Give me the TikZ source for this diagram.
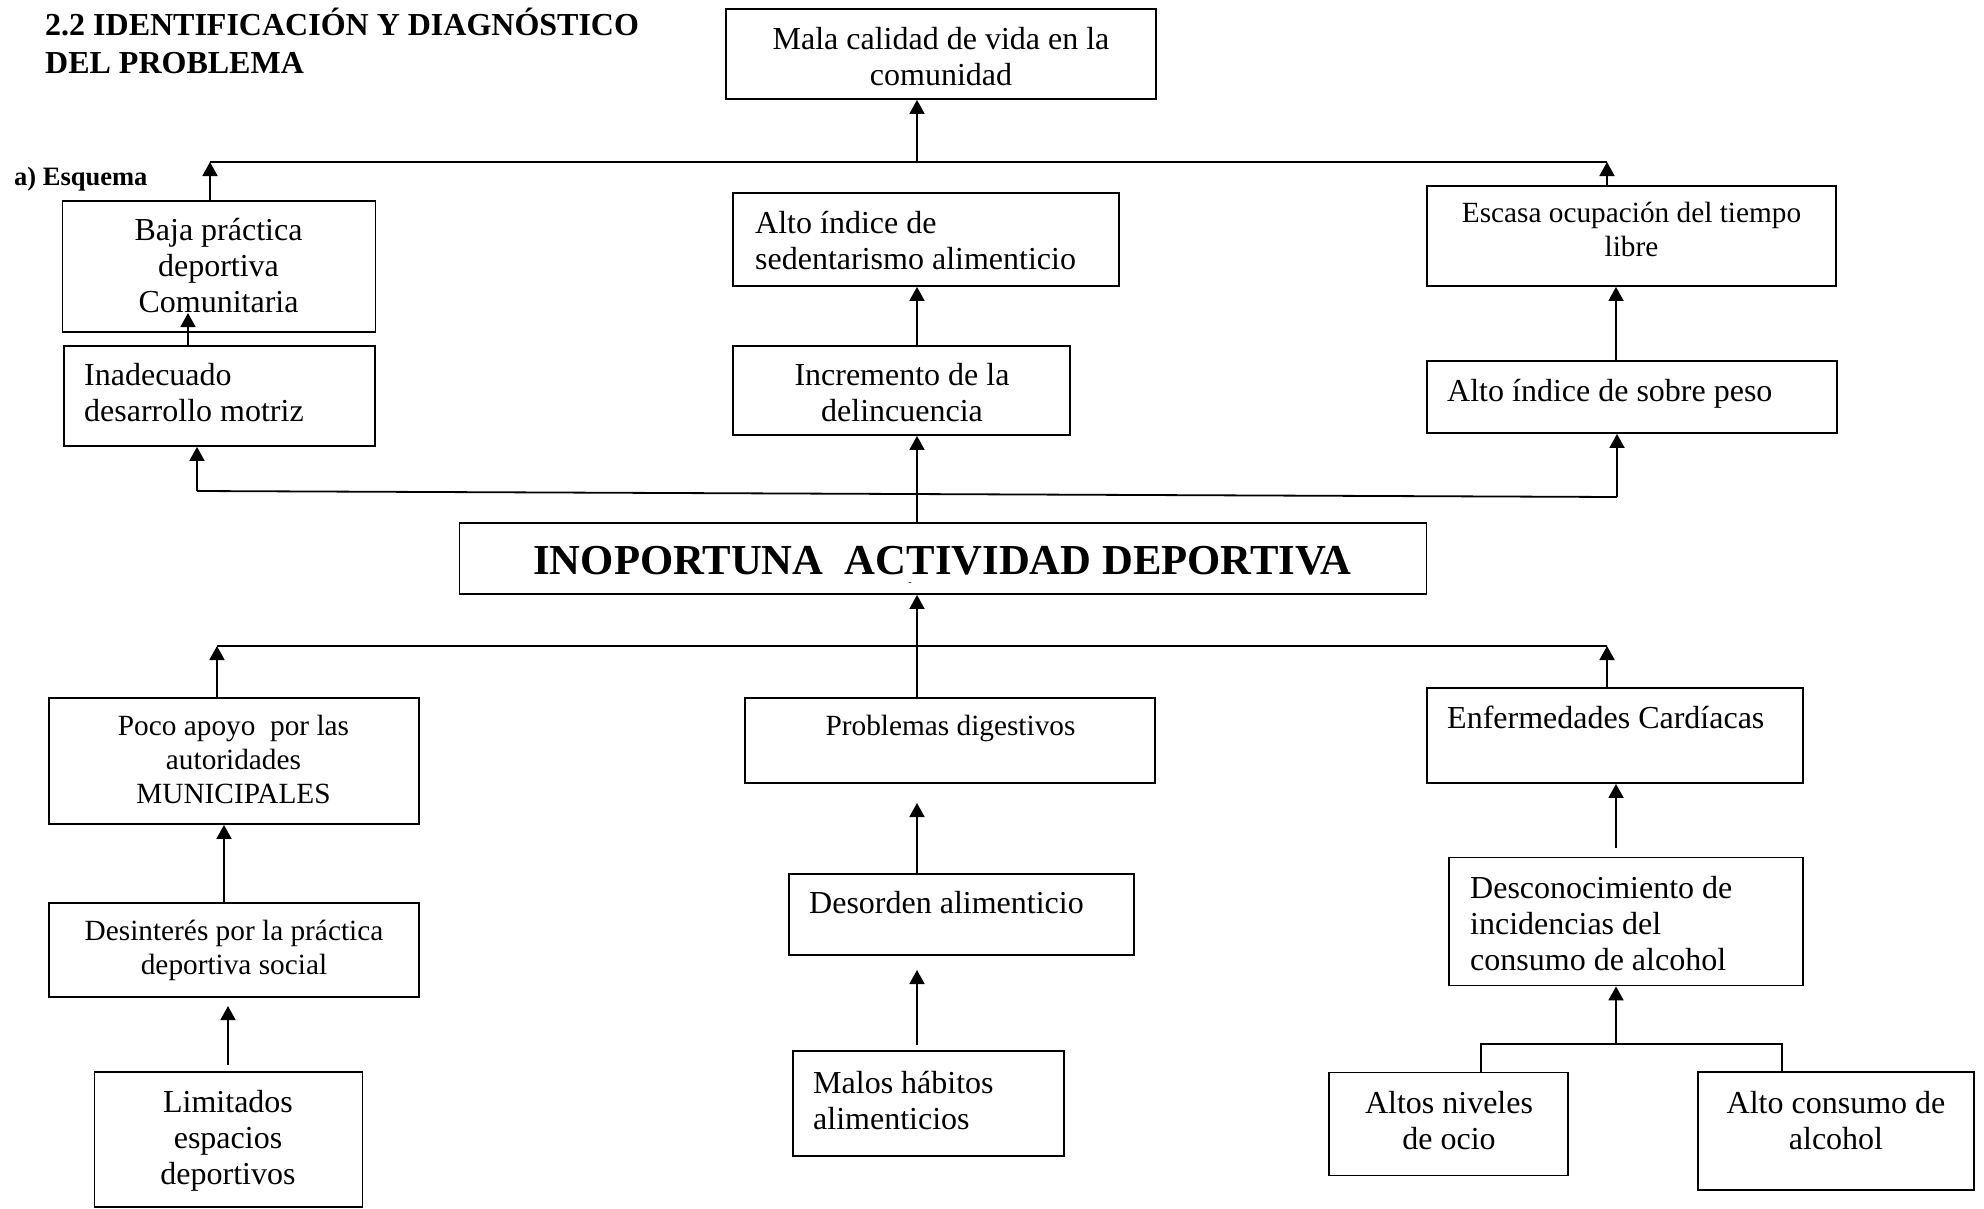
\documentclass[tikz,border=0pt]{standalone}
\usepackage{fontspec}
\setmainfont{Liberation Serif}
\usetikzlibrary{arrows.meta,calc}
\tikzset{
  box/.style={draw, line width=1.8pt, inner sep=0pt, rectangle},
  arr/.style={line width=1.8pt, -{Triangle[width=15pt,length=14pt]}},
  ln/.style={line width=1.8pt},
  tA/.style={font=\fontsize{32}{36}\selectfont, inner sep=0pt},
  tB/.style={font=\fontsize{29.3}{34}\selectfont, inner sep=0pt},
}
\begin{document}
\begin{tikzpicture}[x=1pt,y=-1pt]
\fill[white] (0,0) rectangle (1984,1208);
\useasboundingbox (0,0) rectangle (1984,1208);

% title
\node[anchor=west, align=left, inner sep=0pt, font=\fontsize{32}{38}\selectfont\bfseries] (title) at (45,46.4)
  {\strut 2.2 IDENTIFICACIÓN Y DIAGNÓSTICO\\\strut DEL PROBLEMA};
\node[anchor=base west, inner sep=0pt, font=\fontsize{26.5}{31}\selectfont\bfseries] (esq) at (14,185) {a) Esquema};

% boxes
\node[box, minimum width=430pt, minimum height=90pt]  (mala)   at (941,54) {};
\node[box, minimum width=313pt, minimum height=131pt] (baja)   at (219,266.5) {};
\node[box, minimum width=311pt, minimum height=100pt] (inad)   at (219.5,396) {};
\node[box, minimum width=386pt, minimum height=93pt]  (sed)    at (926,239.5) {};
\node[box, minimum width=337pt, minimum height=89pt]  (incr)   at (901.5,390.5) {};
\node[box, minimum width=409pt, minimum height=100pt] (escasa) at (1631.5,236) {};
\node[box, minimum width=410pt, minimum height=72pt]  (sobre)  at (1632,397) {};
\node[box, minimum width=967pt, minimum height=71pt]  (inop)   at (943,558.5) {};
\node[box, minimum width=370pt, minimum height=126pt] (poco)   at (234,761) {};
\node[box, minimum width=370pt, minimum height=94pt]  (desint) at (234,950) {};
\node[box, minimum width=268pt, minimum height=135pt] (limit)  at (228.5,1139.5) {};
\node[box, minimum width=410pt, minimum height=85pt]  (prob)   at (950,740.5) {};
\node[box, minimum width=345pt, minimum height=81pt]  (desord) at (961.5,914.5) {};
\node[box, minimum width=271pt, minimum height=105pt] (malos)  at (928.5,1103.5) {};
\node[box, minimum width=376pt, minimum height=95pt]  (enf)    at (1615,735.5) {};
\node[box, minimum width=354pt, minimum height=128pt] (desc)   at (1626,921.5) {};
\node[box, minimum width=239pt, minimum height=103pt] (ocio)   at (1448.5,1124) {};
\node[box, minimum width=276pt, minimum height=118pt] (alcoh)  at (1836,1131) {};

% texts
\node[tA, align=center] (tmala) at (941,60.1) {\strut Mala calidad de vida en la\\\strut comunidad};
\node[tA, align=center] (tbaja) at (218.5,269.5) {\strut Baja práctica\\\strut deportiva\\\strut Comunitaria};
\node[tA, align=left, anchor=west] (tinad) at (84,395.8) {\strut Inadecuado\\\strut desarrollo motriz};
\node[tA, align=left, anchor=west] (tsed) at (755,243.8) {\strut Alto índice de\\\strut sedentarismo alimenticio};
\node[tA, align=center] (tincr) at (902,395.8) {\strut Incremento de la\\\strut delincuencia};
\node[tB, align=center] (tescasa) at (1631.5,232.9) {\strut Escasa ocupación del tiempo\\\strut libre};
\node[tA, anchor=base west] (tsobre) at (1447,401.7) {Alto índice de sobre peso};
\node[anchor=base, inner sep=0pt, font=\fontsize{42.7}{48}\selectfont\bfseries] (tinop) at (942.5,574) {INOPORTUNA~ ACTIVIDAD DEPORTIVA};
\node[inner sep=0pt, font=\fontsize{10}{12}\selectfont] (dash) at (910,584) {-};
\node[tB, align=center] (tpoco) at (233.5,762.2) {\strut Poco apoyo~ por las\\\strut autoridades\\\strut MUNICIPALES};
\node[tB, align=center] (tdesint) at (234,950.2) {\strut Desinterés por la práctica\\\strut deportiva social};
\node[tA, align=center] (tlimit) at (228,1140.8) {\strut Limitados\\\strut espacios\\\strut deportivos};
\node[tB, anchor=base] (tprob) at (950.5,735) {Problemas digestivos};
\node[tA, anchor=base west] (tdesord) at (809,913) {Desorden alimenticio};
\node[tA, align=left, anchor=west] (tmalos) at (813,1103.8) {\strut Malos hábitos\\\strut alimenticios};
\node[tA, anchor=base west] (tenf) at (1447,728.5) {Enfermedades Cardíacas};
\node[tA, align=left, anchor=west] (tdesc) at (1470,926.8) {\strut Desconocimiento de\\\strut incidencias del\\\strut consumo de alcohol};
\node[tA, align=center] (tocio) at (1449,1123.8) {\strut Altos niveles\\\strut de ocio};
\node[tA, align=center] (talcoh) at (1836,1123.8) {\strut Alto consumo de\\\strut alcohol};

% coordinates
\coordinate (tl) at (210,162);
\coordinate (tr) at (1607,162);
\coordinate (tm) at (917,162);
\coordinate (xm) at (917,0);
\coordinate (xr) at (1616,0);
\coordinate (xl) at (224,0);
\coordinate (bajain) at (188,313);
\coordinate (ml) at (197,491);
\coordinate (mr) at (1617,497);
\coordinate (bl) at (217,646);
\coordinate (br) at (1607,646);
\coordinate (la) at (228,1065);
\coordinate (lb) at (228,1006);
\coordinate (pt) at (917,803);
\coordinate (ma) at (917,1045);
\coordinate (mt) at (917,970);
\coordinate (ea) at (1616,848);
\coordinate (kl) at (1481,1044);
\coordinate (kr) at (1782,1044);
\coordinate (km) at (1616,1044);

% upper connectors
\draw[ln] (tl) -- (tr);
\draw[arr] (tm) -- (tm |- mala.south);
\draw[arr] (tl |- baja.north) -- (tl);
\draw[arr] (tr |- escasa.north) -- (tr);
\draw[arr] (bajain |- inad.north) -- (bajain);
\draw[arr] (xm |- incr.north) -- (xm |- sed.south);
\draw[arr] (xr |- sobre.north) -- (xr |- escasa.south);
\draw[ln] (ml) -- (mr);
\draw[arr] (ml) -- (ml |- inad.south);
\draw[arr] (mr) -- (mr |- sobre.south);
\draw[arr] (xm |- inop.north) -- (xm |- incr.south);

% lower connectors
\draw[ln] (bl) -- (br);
\draw[arr] (bl |- poco.north) -- (bl);
\draw[arr] (br |- enf.north) -- (br);
\draw[arr] (xm |- prob.north) -- (xm |- inop.south);
\draw[arr] (xl |- desint.north) -- (xl |- poco.south);
\draw[arr] (la) -- (lb);
\draw[arr] (xm |- desord.north) -- (pt);
\draw[arr] (ma) -- (mt);
\draw[arr] (ea) -- (ea |- enf.south);
\draw[ln] (kl |- ocio.north) -- (kl) -- (kr) -- (kr |- alcoh.north);
\draw[arr] (km) -- (km |- desc.south);
\end{tikzpicture}
\end{document}
